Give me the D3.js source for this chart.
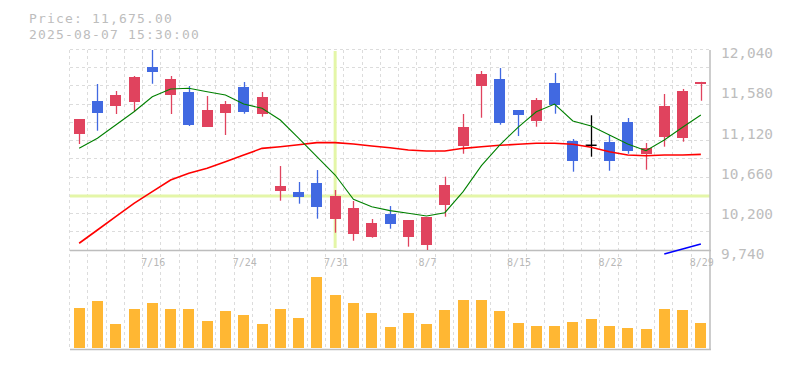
<!DOCTYPE html>
<html><head><meta charset="utf-8">
<script src="https://cdn.jsdelivr.net/npm/d3@7"></script>
<style>body{margin:0;background:#fff}svg{display:block}text{font-family:"DejaVu Sans Mono",monospace}</style>
</head><body><svg id="c" width="785" height="370"></svg>
<script>
// ---- data ----
const dates = ["7/10","7/11","7/14","7/15","7/16","7/17","7/18","7/22","7/23","7/24","7/25","7/28","7/29","7/30","7/31","8/1","8/4","8/5","8/6","8/7","8/8","8/12","8/13","8/14","8/15","8/18","8/19","8/20","8/21","8/22","8/25","8/26","8/27","8/28","8/29"];
const open  = [11076,11455,11401,11447,11845,11527,11558,11160,11321,11615,11309,10426,10411,10511,10101,9933,9898,10159,9898,9807,10265,10942,11630,11707,11352,11229,11661,10996,10947,10985,11214,10850,11045,11034,11645];
const high  = [11248,11650,11570,11742,12040,11742,11627,11512,11455,11673,11558,10709,10526,10663,10434,10308,10101,10250,10090,10124,10587,11306,11799,11833,11352,11489,11776,11019,11291,11065,11260,10973,11535,11593,11675];
const low   = [10962,11114,11306,11332,11653,11306,11168,11160,11065,11309,11275,10311,10277,10105,9944,9852,9887,9990,9784,9746,10128,10850,11263,11183,11053,11160,11309,10644,10816,10655,10850,10667,10931,10988,11458];
const close = [11248,11321,11524,11730,11791,11707,11180,11352,11420,11332,11501,10480,10357,10242,10365,10228,10055,10047,10090,10124,10491,11153,11765,11206,11294,11466,11412,10770,10947,10770,10885,10916,11398,11570,11675];
const volume = [400,470,240,390,450,390,390,270,370,330,240,390,300,710,530,450,350,210,350,240,380,480,480,370,250,220,220,260,290,220,200,190,390,380,250];
const ma5  = [10912,11027,11180,11332,11504,11593,11601,11562,11524,11420,11371,11237,11030,10816,10606,10327,10242,10197,10167,10136,10174,10415,10713,10950,11153,11332,11420,11226,11168,11065,10962,10885,11008,11153,11294];
const ma25 = [9823,9975,10128,10281,10415,10549,10626,10683,10759,10835,10912,10931,10954,10977,10977,10962,10939,10919,10893,10881,10881,10912,10931,10947,10958,10970,10970,10958,10924,10873,10835,10827,10835,10835,10843];
const ma75 = [null,null,null,null,null,null,null,null,null,null,null,null,null,null,null,null,null,null,null,null,null,null,null,null,null,null,null,null,null,null,null,null,9700,9757,9815];
const priceTicks = [9740,10200,10660,11120,11580,12040];
const dateTicks = ["7/16","7/24","7/31","8/7","8/15","8/22","8/29"];
const crossDate = "7/31", crossPrice = 10365;
const titleLines = ["Price: 11,675.00","2025-08-07 15:30:00"];

// ---- layout ----
const W=785,H=370, L=70, R=710, pTop=50, pBot=250.5, vTop=250.5, vBot=349.5, vBase=348;
const svg=d3.select("#c");
svg.append("rect").attr("width",W).attr("height",H).attr("fill","#fff");
const x=d3.scaleBand().domain(dates).range([L,R]).paddingInner(0.4).paddingOuter(0.2);
const y=d3.scaleLinear().domain([9740,12040]).range([pBot,pTop]);
const yv=d3.scaleLinear().domain([0,970]).range([vBase,vTop]);
const step=x.step(), bw=x.bandwidth();
const cx=d=>x(d)+bw/2;
const px=v=>Math.round(v)+0.5;

// grid
const grid=svg.append("g").attr("stroke","#dcdcdc").attr("stroke-dasharray","3,3").attr("shape-rendering","crispEdges");
const vgx=d3.range(dates.length).map(i=>L+i*step);
grid.selectAll("line.v").data(vgx).join("line").attr("class","v")
  .attr("x1",d=>px(d)-1).attr("x2",d=>px(d)-1).attr("y1",pTop).attr("y2",vBot);
const hgv=d3.range(11).map(k=>y.domain()[0]+(k+1)*(y.domain()[1]-y.domain()[0])/11);
grid.selectAll("line.h").data(hgv).join("line").attr("class","h")
  .attr("x1",L).attr("x2",R).attr("y1",d=>px(y(d))-1).attr("y2",d=>px(y(d))-1);

// crosshair
const cross=svg.append("g").attr("stroke","#e4f6a8").attr("stroke-width",3);
cross.append("line").attr("x1",cx(crossDate)).attr("x2",cx(crossDate)).attr("y1",pTop+1).attr("y2",pBot-2.5);
cross.append("line").attr("x1",L).attr("x2",R).attr("y1",y(crossPrice)).attr("y2",y(crossPrice));

// borders
const bd=svg.append("g").attr("stroke","#bdbdbd").attr("stroke-width",1.5);
bd.append("line").attr("x1",L).attr("x2",R+1).attr("y1",pBot).attr("y2",pBot);
bd.append("line").attr("x1",L).attr("x2",R+1).attr("y1",vBot).attr("y2",vBot);
bd.append("line").attr("x1",R).attr("x2",R).attr("y1",pTop).attr("y2",vBot);

// candles
const col=i=>close[i]>open[i]?"#e0435e":(close[i]<open[i]?"#4169e1":"#000");
const cg=svg.append("g");
dates.forEach((d,i)=>{
  const c=col(i);
  cg.append("line").attr("x1",px(cx(d))).attr("x2",px(cx(d))).attr("y1",y(high[i])).attr("y2",y(low[i]))
    .attr("stroke",c).attr("stroke-width",1.3);
  if(close[i]===open[i]){
    cg.append("line").attr("x1",x(d)).attr("x2",x(d)+bw).attr("y1",y(close[i])).attr("y2",y(close[i]))
      .attr("stroke",c).attr("stroke-width",1.5);
  } else {
    const t=y(Math.max(open[i],close[i])), b=y(Math.min(open[i],close[i]));
    cg.append("rect").attr("x",Math.round(x(d))).attr("width",Math.round(bw)).attr("y",t).attr("height",Math.max(1,b-t))
      .attr("fill",c).attr("shape-rendering","crispEdges");
  }
});

// volume
svg.append("g").selectAll("rect").data(volume).join("rect")
  .attr("x",(v,i)=>Math.round(x(dates[i]))).attr("width",Math.round(bw))
  .attr("y",v=>yv(v)).attr("height",v=>vBase-yv(v)).attr("fill","#ffb733").attr("shape-rendering","crispEdges");

// moving averages
const line=d3.line().defined(v=>v!=null).x((v,i)=>cx(dates[i])).y(v=>y(v));
svg.append("path").attr("d",line(ma25)).attr("fill","none").attr("stroke","#ff0000").attr("stroke-width",1.6);
svg.append("path").attr("d",line(ma5)).attr("fill","none").attr("stroke","#008000").attr("stroke-width",1.1);
svg.append("path").attr("d",line(ma75)).attr("fill","none").attr("stroke","#0000ff").attr("stroke-width",1.6);

// axis labels
svg.append("g").selectAll("text").data(priceTicks).join("text")
  .attr("x",721).attr("y",d=>y(d)+8.3).attr("font-size","14.4px").attr("fill","#bdbdbd")
  .text(d=>d3.format(",")(d));
svg.append("g").selectAll("text").data(dateTicks).join("text")
  .attr("x",d=>cx(d)+1).attr("y",266).attr("text-anchor","middle").attr("font-size","10px").attr("fill","#b8b8b8")
  .text(d=>d);

// title
svg.append("g").selectAll("text").data(titleLines).join("text")
  .attr("x",29).attr("y",(d,i)=>23.3+i*15.2).attr("font-size","13px").attr("letter-spacing","1.17px")
  .attr("fill","#bdbdbd").text(d=>d);
</script></body></html>
